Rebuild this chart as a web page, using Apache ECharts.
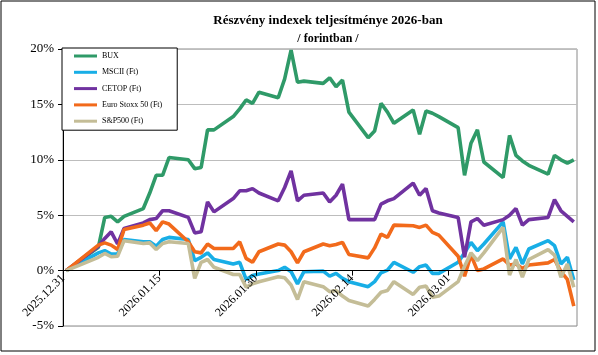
<!DOCTYPE html>
<html>
<head>
<meta charset="utf-8">
<script src="https://cdn.jsdelivr.net/npm/echarts@6/dist/echarts.min.js"></script>
<style>
html,body{margin:0;padding:0;background:#fff;}
#chart{width:598px;height:355px;}
</style>
</head>
<body>
<div id="chart"></div>
<script>
const dates = [
 '2025-12-31',
 '2026-01-05','2026-01-06','2026-01-07','2026-01-08','2026-01-09',
 '2026-01-12','2026-01-13','2026-01-14','2026-01-15','2026-01-16',
 '2026-01-19','2026-01-20','2026-01-21','2026-01-22','2026-01-23',
 '2026-01-26','2026-01-27','2026-01-28','2026-01-29','2026-01-30',
 '2026-02-02','2026-02-03','2026-02-04','2026-02-05','2026-02-06',
 '2026-02-09','2026-02-10','2026-02-11','2026-02-12','2026-02-13',
 '2026-02-16','2026-02-17','2026-02-18','2026-02-19','2026-02-20',
 '2026-02-23','2026-02-24','2026-02-25','2026-02-26','2026-02-27',
 '2026-03-02','2026-03-03','2026-03-04','2026-03-05','2026-03-06',
 '2026-03-09','2026-03-10','2026-03-11','2026-03-12','2026-03-13',
 '2026-03-16','2026-03-17','2026-03-18','2026-03-19','2026-03-20'
];
const bux = [0,
 2.1,4.8,4.9,4.4,4.9, 5.6,7.0,8.6,8.6,10.2, 10.0,9.2,9.3,12.7,12.7, 13.9,14.6,15.4,15.1,16.1,
 15.6,17.3,19.9,17.0,17.1, 16.9,17.4,16.6,17.2,14.3, 12.0,12.6,15.1,14.3,13.3, 14.5,12.3,14.4,14.2,13.9,
 12.9,8.6,11.5,12.7,9.8, 8.4,12.2,10.4,9.9,9.5, 8.7,10.4,10.0,9.7,10.0];
const msci = [0,
 1.6,1.8,1.5,1.5,2.8, 2.6,2.6,2.2,2.8,3.0, 2.8,0.9,1.2,1.6,1.0, 0.6,0.75,-0.8,-0.45,-0.3,
 0.0,0.3,-0.1,-1.2,-0.1, -0.05,-0.5,-0.25,-0.7,-1.0, -1.45,-1.0,-0.2,0.05,0.75, -0.15,0.35,0.5,-0.25,-0.25,
 0.75,1.6,2.55,1.8,2.4, 4.4,1.05,2.1,0.6,1.95, 2.7,2.25,0.6,1.2,-0.85];
const cetop = [0,
 2.2,2.9,3.5,2.4,3.8, 4.3,4.6,4.7,5.4,5.4, 4.8,3.4,3.5,6.2,5.3, 6.5,7.2,7.2,7.4,7.0,
 6.3,7.5,9.0,6.3,6.8, 7.0,6.2,6.8,7.8,4.6, 4.6,4.6,6.0,6.3,6.5, 7.9,6.8,7.4,5.4,5.2,
 4.8,1.2,4.4,4.7,4.1, 4.6,5.0,5.6,4.1,4.6, 4.8,6.4,5.4,4.9,4.4];
const stoxx = [0,
 2.3,2.5,2.3,1.9,3.7, 4.1,4.3,3.6,4.4,4.2, 2.6,1.7,1.6,2.4,2.0, 2.0,2.6,1.1,0.75,1.7,
 2.4,2.3,1.7,0.7,1.7, 2.4,2.25,2.35,2.55,1.45, 1.15,2.05,3.3,3.0,4.1, 4.05,3.9,4.1,3.45,3.2,
 1.3,-0.5,1.4,0.0,0.15, 1.05,0.5,0.6,0.2,0.5, 0.7,1.0,-0.1,-0.8,-3.2];
const sp500 = [0,
 1.2,1.55,1.25,1.3,2.7, 2.45,2.5,1.9,2.45,2.6, 2.45,-0.7,0.75,1.0,0.3, -0.35,-0.35,-1.5,-1.2,-1.0,
 -0.55,-0.65,-1.3,-2.6,-1.0, -1.45,-1.9,-1.8,-2.3,-2.7, -3.2,-2.6,-1.95,-1.8,-1.0, -2.15,-1.5,-1.4,-2.4,-2.3,
 -1.0,0.4,1.6,0.9,1.6, 3.9,-0.4,1.0,-0.6,1.0, 1.9,1.4,-0.6,0.6,-1.5];
const seriesNames = ['BUX','MSCII (Ft)','CETOP (Ft)','Euro Stoxx 50 (Ft)','S&P500 (Ft)'];
const xTickLabels = ['2025.12.31','2026.01.15','2026.01.30','2026.02.14','2026.03.01','2026.03.16'];
const colors = ['#2f9a68','#18aee6','#7032a0','#f26a1b','#c4bd97'];

function dayIndex(s){
  const p = s.split(/[-.]/).map(Number);
  return Math.round((Date.UTC(p[0],p[1]-1,p[2]) - Date.UTC(2025,11,31)) / 864e5);
}
const tickVals = xTickLabels.map(l => dayIndex(l) - 0.5);
const allSeries = [bux, msci, cetop, stoxx, sp500];

const gridTop = 49, gridBottom = 29, chartH = 355;
const yMin = -5, yMax = 20;
const plotH = chartH - gridTop - gridBottom;
const zeroOffset = -plotH * (0 - yMin) / (yMax - yMin);

const chart = echarts.init(document.getElementById('chart'), null, {renderer:'canvas'});
const serif = 'Liberation Serif, Times New Roman, serif';
chart.setOption({
  animation:false,
  backgroundColor:'#fff',
  color: colors,
  title:[
    {text:'Részvény indexek teljesítménye 2026-ban', left:323, top:9, textAlign:'center',
     textStyle:{fontFamily:serif, fontSize:13, fontWeight:'bold', color:'#000'}},
    {text:'/ forintban /', left:323, top:28, textAlign:'center',
     textStyle:{fontFamily:serif, fontSize:12, fontWeight:'bold', color:'#000'}}
  ],
  legend:{
    orient:'vertical', left:62, top:48, z:30,
    data: seriesNames,
    icon:'rect', itemWidth:23, itemHeight:3, itemGap:6.3,
    padding:[3,15,4,12],
    backgroundColor:'#fff', borderColor:'#000', borderWidth:1,
    textStyle:{fontFamily:serif, fontSize:8, color:'#000', lineHeight:10}
  },
  grid:{left:63, right:21, top:gridTop, bottom:gridBottom, show:true, borderColor:'#8a8a8a', borderWidth:1,
        containLabel:false, outerBoundsMode:'none'},
  xAxis:{
    type:'value', min:-0.5, max:79.5, interval:15, z:20, zlevel:1,
    offset: zeroOffset,
    axisLine:{show:true, onZero:false, lineStyle:{color:'#000', width:1}},
    axisTick:{show:true, length:5, inside:false, lineStyle:{color:'#000'}, customValues: tickVals},
    splitLine:{show:false},
    axisLabel:{
      customValues: tickVals,
      rotate:45, margin:6, fontFamily:serif, fontSize:12, color:'#000',
      showMaxLabel:false, hideOverlap:false,
      formatter: v => { const i = tickVals.findIndex(t => Math.abs(t - v) < 0.01); return i >= 0 ? xTickLabels[i] : ''; }
    }
  },
  yAxis:{
    type:'value', min:yMin, max:yMax, interval:5,
    axisLine:{show:true, onZero:false, lineStyle:{color:'#000', width:1}},
    axisTick:{show:true, length:5, lineStyle:{color:'#000'}},
    splitLine:{show:true, lineStyle:{color:'#bdbdbd', width:1}},
    axisLabel:{formatter:'{value}%', fontFamily:serif, fontSize:13, color:'#000', margin:9}
  },
  graphic:[{type:'rect', shape:{x:1, y:1, width:594, height:350}, style:{fill:null, stroke:'#000', lineWidth:1}, silent:true, z:100}],
  series: allSeries.map((vals, k) => ({
    name: seriesNames[k], type:'line', showSymbol:false, symbol:'none',
    lineStyle:{width:3.6, color:colors[k]}, itemStyle:{color:colors[k]},
    data: dates.map((d, i) => [dayIndex(d), vals[i]]),
    z: 2 + k
  }))
});
</script>
</body>
</html>
